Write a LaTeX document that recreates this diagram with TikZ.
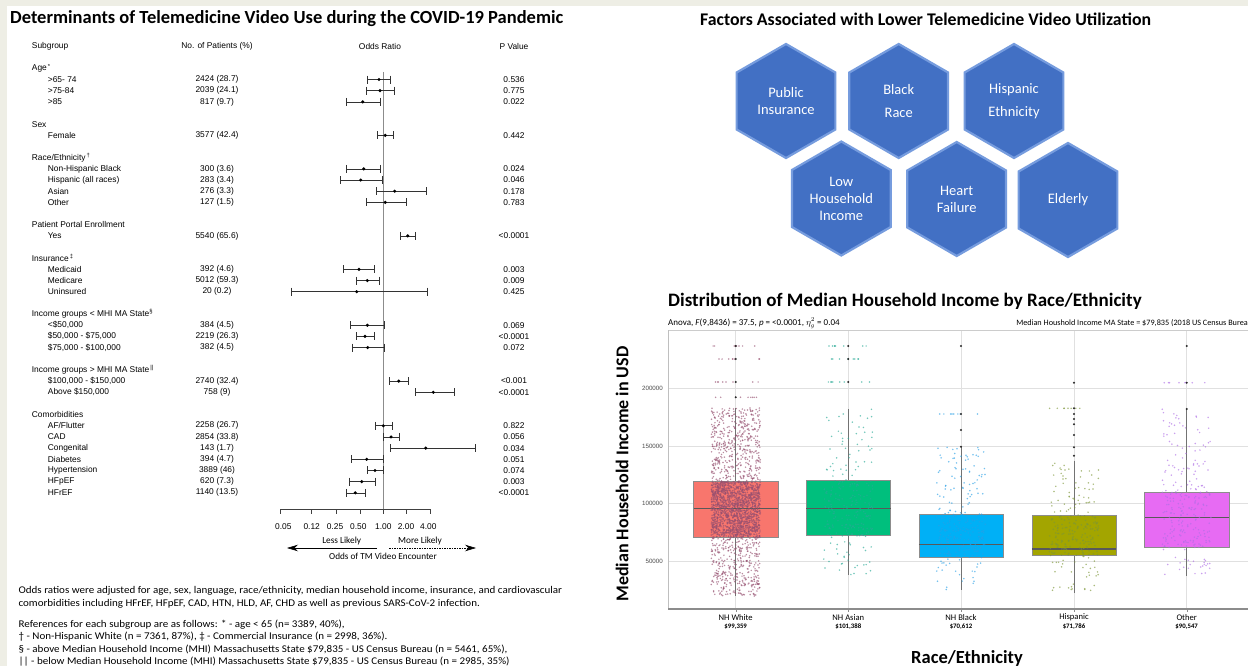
\documentclass[tikz,border=0pt]{standalone}
\usepackage{fontspec}
\setmainfont{Carlito}
\newfontfamily\plotfont{Liberation Sans}
\newfontfamily\notefont[FakeStretch=1.07]{Carlito}
\usetikzlibrary{shapes.geometric,arrows.meta}

\definecolor{pagebg}{RGB}{238,238,229}
\definecolor{hexblue}{RGB}{66,112,196}
\definecolor{hexedge}{RGB}{118,156,222}
\definecolor{boxwhite}{HTML}{F8766D}
\definecolor{boxasian}{HTML}{00BF7D}
\definecolor{boxblack}{HTML}{00B0F6}
\definecolor{boxhisp}{HTML}{A3A500}
\definecolor{boxother}{HTML}{E76BF3}
\definecolor{dotwhite}{RGB}{150,80,112}
\definecolor{dotasian}{RGB}{40,170,150}
\definecolor{dotblack}{RGB}{40,160,230}
\definecolor{dothisp}{RGB}{125,150,55}
\definecolor{dotother}{RGB}{175,110,230}

\begin{document}
\begin{tikzpicture}
	[x=1pt,y=-1pt,
		ttl/.style={font=\bfseries\fontsize{18.5}{20}\selectfont,anchor=west,inner sep=0pt},
		colhead/.style={font=\plotfont\fontsize{8.4}{9}\selectfont,inner sep=0pt},
		rowtxt/.style={font=\plotfont\fontsize{8.4}{9}\selectfont,inner sep=0pt},
		note/.style={font=\notefont\fontsize{10.3}{11}\selectfont,anchor=west,inner sep=0pt},
		ci/.style={draw=black!80,line width=0.6pt},
		hexa/.style={regular polygon,regular polygon sides=6,shape border rotate=30,
			minimum size=114pt,inner sep=0pt,fill=hexblue,draw=hexedge,line width=2.2pt,
			text=white,align=center,font=\fontsize{14.5}{17}\selectfont},
		grid/.style={draw=black!12,line width=0.5pt},
		ticklab/.style={font=\plotfont\fontsize{6.2}{7}\selectfont,text=black!70,inner sep=0pt}]
		\tikzstyle{outl}=[fill=black!85]

	\useasboundingbox (0,0) rectangle (1248,666);
	\fill[pagebg] (0,0) rectangle (1248,666);
	\fill[white] (7,6) rectangle (1248,666);

	% forest plot
	\node[ttl] (ftitle) at (10,19) {Determinants of Telemedicine Video Use during the COVID-19 Pandemic};
	\node[colhead,anchor=west] (hsub) at (31.7,46) {Subgroup};
	\node[colhead] (hnum) at (217,46) {No. of Patients (\%)};
	\node[colhead] (hor) at (380,46) {Odds Ratio};
	\node[colhead] (hpv) at (514,46) {P Value};

	\foreach \k/\grp [count=\g] in {2/{Age\textsuperscript{\,*}},7/Sex,10/{Race/Ethnicity\textsuperscript{\,†}},
		16/Patient Portal Enrollment,19/{Insurance\textsuperscript{\,‡}},
		24/{Income groups < MHI MA State\textsuperscript{§}},29/{Income groups > MHI MA State\textsuperscript{\,||}},
		33/Comorbidities}
		\node[rowtxt,anchor=west] (grp\g) at (31.7,{46+11.17*\k}) {\grp};

	\draw[black!45,line width=0.6pt] (383.3,72) -- (383.3,509);

	\foreach \k/\lab/\np/\lo/\pt/\hi/\pv [count=\r] in {
		3/>65- 74/{2424 (28.7)}/367.3/379/390/0.536,
		4/>75-84/{2039 (24.1)}/366/380/394.7/0.775,
		5/>85/{817 (9.7)}/346.7/362.7/380.7/0.022,
		8/Female/{3577 (42.4)}/377.3/385.3/393.3/0.442,
		11/Non-Hispanic Black/{300 (3.6)}/346.7/363.7/380.3/0.024,
		12/Hispanic (all races)/{283 (3.4)}/340/360.7/382/0.046,
		13/Asian/{276 (3.3)}/376.7/394.7/426.7/0.178,
		14/Other/{127 (1.5)}/366/385.3/406/0.783,
		17/Yes/{5540 (65.6)}/400/407.7/415.7/<0.0001,
		20/Medicaid/{392 (4.6)}/343.3/359/374/0.003,
		21/Medicare/{5012 (59.3)}/356/367.3/379.3/0.009,
		22/Uninsured/{20 (0.2)}/291/356.7/427.7/0.425,
		25/{<\$50,000}/{384 (4.5)}/350/367.3/384.3/0.069,
		26/{\$50,000 - \$75,000}/{2219 (26.3)}/356.3/365/374/<0.0001,
		27/{\$75,000 - \$100,000}/{382 (4.5)}/352.3/367.7/384.3/0.072,
		30/{\$100,000 - \$150,000}/{2740 (32.4)}/389.7/398.7/408.7/<0.001,
		31/{Above \$150,000}/{758 (9)}/415/433.3/454.3/<0.0001,
		34/{AF/Flutter}/{2258 (26.7)}/375/383.3/392.3/0.822,
		35/CAD/{2854 (33.8)}/383.3/391/399.3/0.056,
		36/Congenital/{143 (1.7)}/390.3/425.7/475/0.034,
		37/Diabetes/{394 (4.7)}/351/366.7/383/0.051,
		38/Hypertension/{3889 (46)}/367.7/375/383/0.074,
		39/HFpEF/{620 (7.3)}/349.3/361.7/375.7/0.003,
		40/HFrEF/{1140 (13.5)}/346.7/355.3/365.3/<0.0001}{
		\node[rowtxt,anchor=west] (sg\r) at (47.7,{46+11.17*\k}) {\lab};
		\node[rowtxt] (np\r) at (217,{46+11.17*\k}) {\np};
		\node[rowtxt] (pv\r) at (514,{46+11.17*\k}) {\pv};
		\draw[ci] (\lo,{46+11.17*\k}) -- (\hi,{46+11.17*\k});
		\draw[ci] (\lo,{46+11.17*\k-4}) -- (\lo,{46+11.17*\k+4});
		\draw[ci] (\hi,{46+11.17*\k-4}) -- (\hi,{46+11.17*\k+4});
		\fill[black] (\pt,{46+11.17*\k}) circle[radius=1.7];
	}

	\draw[black!75,line width=0.6pt] (280,509) -- (430,509);
	\foreach \tx/\tl/\lx [count=\t] in {280/0.05/283.3,311.7/0.12/311.7,336/0.25/335,360/0.50/358.3,
		383.3/1.00/383.3,406.7/2.00/406,430/4.00/428.3}{
		\draw[black!75,line width=0.6pt] (\tx,509) -- (\tx,513.5);
		\node[rowtxt] (tk\t) at (\lx,526.5) {\tl};
	}
	\node[font=\fontsize{9.3}{10}\selectfont,inner sep=0pt] (less) at (341.7,541.5) {Less Likely};
	\node[font=\fontsize{9.3}{10}\selectfont,inner sep=0pt] (more) at (420,541.5) {More Likely};
	\node[font=\fontsize{9.2}{10}\selectfont,inner sep=0pt] (odds) at (383,556.5) {Odds of TM Video Encounter};
	\coordinate (lessa) at (377,548);
	\coordinate (lessb) at (287,548);
	\coordinate (morea) at (389,548);
	\coordinate (moreb) at (476,548);
	\draw[-{Stealth[length=11pt,width=6.5pt]},line width=0.6pt] (lessa) -- (lessb);
	\draw[-{Stealth[length=11pt,width=6.5pt]},line width=0.6pt,dashed,dash pattern=on 1.5pt off 1pt] (morea) -- (moreb);

	% footnotes
	\node[note] (n1) at (18.4,591) {Odds ratios were adjusted for age, sex, language, race/ethnicity, median household income, insurance, and cardiovascular};
	\node[note] (n2) at (18.4,603.5) {comorbidities including HFrEF, HFpEF, CAD, HTN, HLD, AF, CHD as well as previous SARS-CoV-2 infection.};
	\node[note] (n3) at (18.4,624.8) {References for each subgroup are as follows: * - age < 65 (n= 3389, 40\%),};
	\node[note] (n4) at (18.4,637) {† - Non-Hispanic White (n = 7361, 87\%), ‡ - Commercial Insurance (n = 2998, 36\%).};
	\node[note] (n5) at (18.4,649.3) {§ - above Median Household Income (MHI) Massachusetts State \$79,835 - US Census Bureau (n = 5461, 65\%),};
	\node[note] (n6) at (18.4,661.5) {|| - below Median Household Income (MHI) Massachusetts State \$79,835 - US Census Bureau (n = 2985, 35\%)};

	% hexagons
	\node[ttl,font=\bfseries\fontsize{17.8}{20}\selectfont] (htitle) at (700,19) {Factors Associated with Lower Telemedicine Video Utilization};
	\node[hexa] (pubins) at (786,101) {Public\\Insurance};
	\node[hexa] (blackrace) at (898.7,101) {Black\\[6pt]Race};
	\node[hexa] (hispeth) at (1014,101) {Hispanic\\[6pt]Ethnicity};
	\node[hexa] (lowinc) at (841.3,198.5) {Low\\Household\\Income};
	\node[hexa] (hfail) at (956.7,199) {Heart\\Failure};
	\node[hexa] (elderly) at (1068,200) {Elderly};

	% box plot
	\node[ttl,font=\bfseries\fontsize{19}{21}\selectfont] (btitle) at (668,301) {Distribution of Median Household Income by Race/Ethnicity};
	\node[font=\fontsize{9}{10}\selectfont,anchor=west,inner sep=0pt] (anova) at (668,323)
		{Anova, \textit{F}(9,8436) = 37.5, \textit{p} = <0.0001, $\eta^{2}_{g}$ = 0.04};
	\node[font=\fontsize{8.2}{9}\selectfont,anchor=east,inner sep=0pt] (mhi) at (1248,323)
		{Median Houshold Income MA State = \$79,835 (2018 US Census Burea};

	\foreach \gy in {388.3,446,503.3,561}
		\draw[grid] (668,\gy) -- (1248,\gy);
	\foreach \gx in {735.7,848.3,961,1074,1186.7}
		\draw[grid] (\gx,330) -- (\gx,609);
	\draw[black!20] (668,330) -- (1248,330);
	\draw[black!25] (668,330) -- (668,609);
	\draw[black!45,line width=1.2pt] (668,609) -- (1248,609);

	\foreach \gy/\gl [count=\t] in {388.3/200000,446/150000,503.3/100000,561/50000}
		\node[ticklab,anchor=east] (yt\t) at (663,\gy) {\gl};
	\node[font=\bfseries\fontsize{18}{20}\selectfont,rotate=90,inner sep=0pt] (ytitle) at (622,474) {Median Household Income in USD};

	\foreach \cx/\bt/\bm/\bb/\wt/\wb/\fc in {735.7/481.7/508.3/537.3/407.8/596/boxwhite,
		848.3/480.7/508.3/535.7/409/574.6/boxasian,
		961/514/544.3/557.7/446.7/590/boxblack,
		1074/515.7/549/555.7/460.7/593/boxhisp,
		1186.7/492.3/517.7/547.7/409/575.7/boxother}{
		\draw[black!55,line width=0.7pt] (\cx,\wt) -- (\cx,\wb);
		\draw[fill=\fc,draw=black!45,line width=0.5pt] (\cx-42.2,\bt) rectangle (\cx+42.2,\bb);
		\draw[black!65,line width=1.3pt] (\cx-42.2,\bm) -- (\cx+42.2,\bm);
	}

	\pgfmathsetseed{11}
	\foreach \cx/\n/\bt/\bb/\wt/\wb/\dc in {735.7/2400/481.7/537.3/407.8/596/dotwhite,
		848.3/240/480.7/535.7/409/574.6/dotasian,
		961/260/514/557.7/446.7/590/dotblack,
		1074/240/515.7/555.7/460.7/593/dothisp,
		1186.7/260/492.3/547.7/409/575.7/dotother}{
		\foreach \i in {1,...,\n}{
			\pgfmathsetmacro\u{rnd}
			\pgfmathsetmacro\px{\cx+(rnd-0.5)*49}
			\pgfmathsetmacro\py{\u<0.45 ? \bt+rnd*(\bb-\bt) : \wt+rnd*(\wb-\wt)}
			\fill[\dc,opacity=0.65] (\px,\py) circle[radius=0.85];
		}
	}
	\foreach \cx/\oy/\dc in {735.7/346/dotwhite,735.7/359/dotwhite,735.7/382/dotwhite,735.7/397.3/dotwhite,
		848.3/346/dotasian,848.3/359/dotasian,848.3/382/dotasian,
		961/414/dotblack,1074/408.3/dothisp,1186.7/382.7/dotother}{
		\foreach \i in {1,...,8}{
			\pgfmathsetmacro\px{\cx+(rnd-0.5)*50}
			\fill[\dc,opacity=0.65] (\px,\oy) circle[radius=0.85];
		}
	}
	\foreach \ox/\oy in {735.7/346,735.7/359,735.7/382,735.7/397.3,848.3/346,848.3/359,848.3/382,
		961/346,961/414,961/430,961/446.7,1074/382.7,1074/408.3,1074/414,1074/419,1074/424.3,
		1074/435,1074/447.3,1074/455.7,1186.7/346,1186.7/382.7,1186.7/409}
		\fill[outl] (\ox,\oy) circle[radius=1.1];

	\foreach \cx/\xl/\xv [count=\c] in {735.7/NH White/{\$99,359},848.3/NH Asian/{\$101,388},
		961/NH Black/{\$70,612},1074/Hispanic/{\$71,786},1186.7/Other/{\$90,547}}{
		\draw[black!45] (\cx,609) -- (\cx,612);
		\node[font=\fontsize{8.6}{9}\selectfont,inner sep=0pt] (xl\c) at (\cx,617.5) {\xl};
		\node[font=\bfseries\fontsize{6.8}{7}\selectfont,inner sep=0pt] (xv\c) at (\cx,626.5) {\xv};
	}
	\node[font=\bfseries\fontsize{18.5}{20}\selectfont,inner sep=0pt] (xtitle) at (967,658) {Race/Ethnicity};
\end{tikzpicture}
\end{document}
